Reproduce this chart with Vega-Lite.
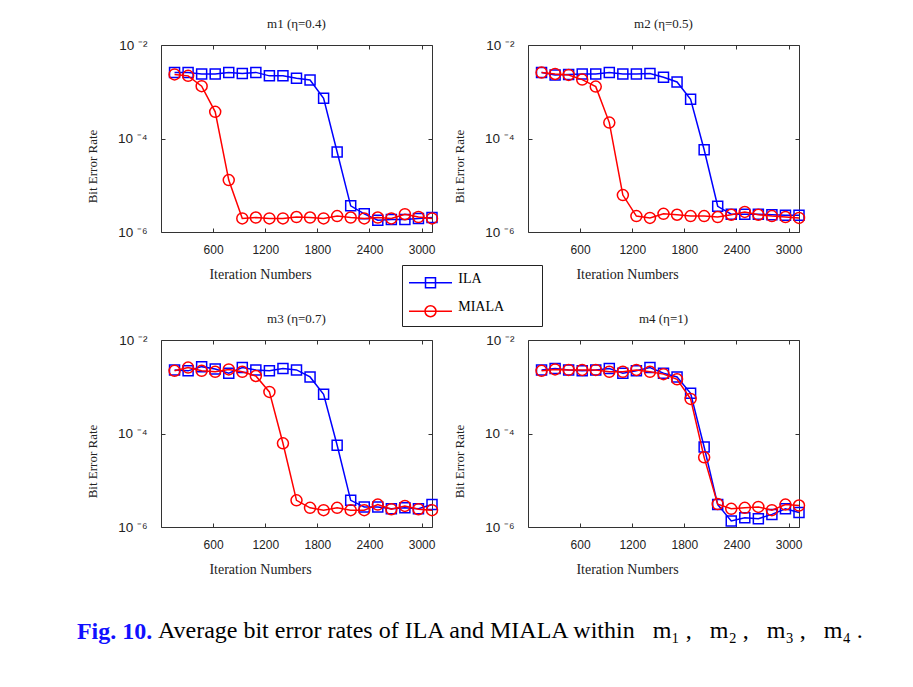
{
  "$schema": "https://vega.github.io/schema/vega-lite/v6.json",
  "background": "white",
  "padding": {"left": 76, "top": 17, "right": 0, "bottom": 0},
  "data": {"values": [
    {"p":"m1","x":156,"ILA":0.002594,"MIALA":0.002344},
    {"p":"m1","x":312,"ILA":0.002594,"MIALA":0.002188},
    {"p":"m1","x":468,"ILA":0.002399,"MIALA":0.001318},
    {"p":"m1","x":624,"ILA":0.002399,"MIALA":0.000372},
    {"p":"m1","x":780,"ILA":0.002594,"MIALA":0.0000129},
    {"p":"m1","x":936,"ILA":0.002455,"MIALA":0.00000195},
    {"p":"m1","x":1092,"ILA":0.002594,"MIALA":0.00000204},
    {"p":"m1","x":1248,"ILA":0.002188,"MIALA":0.00000195},
    {"p":"m1","x":1404,"ILA":0.002188,"MIALA":0.00000195},
    {"p":"m1","x":1560,"ILA":0.00195,"MIALA":0.00000209},
    {"p":"m1","x":1716,"ILA":0.001778,"MIALA":0.00000204},
    {"p":"m1","x":1872,"ILA":0.000724,"MIALA":0.00000195},
    {"p":"m1","x":2028,"ILA":0.0000513,"MIALA":0.00000219},
    {"p":"m1","x":2184,"ILA":0.00000363,"MIALA":0.00000204},
    {"p":"m1","x":2340,"ILA":0.00000245,"MIALA":0.00000195},
    {"p":"m1","x":2496,"ILA":0.00000178,"MIALA":0.00000204},
    {"p":"m1","x":2652,"ILA":0.00000186,"MIALA":0.00000195},
    {"p":"m1","x":2808,"ILA":0.00000186,"MIALA":0.0000024},
    {"p":"m1","x":2964,"ILA":0.00000195,"MIALA":0.00000209},
    {"p":"m1","x":3120,"ILA":0.00000204,"MIALA":0.00000195},
    {"p":"m2","x":156,"ILA":0.002594,"MIALA":0.00257},
    {"p":"m2","x":312,"ILA":0.002291,"MIALA":0.002399},
    {"p":"m2","x":468,"ILA":0.002344,"MIALA":0.002291},
    {"p":"m2","x":624,"ILA":0.002399,"MIALA":0.00182},
    {"p":"m2","x":780,"ILA":0.002399,"MIALA":0.001288},
    {"p":"m2","x":936,"ILA":0.00257,"MIALA":0.000219},
    {"p":"m2","x":1092,"ILA":0.002399,"MIALA":0.00000617},
    {"p":"m2","x":1248,"ILA":0.002399,"MIALA":0.00000219},
    {"p":"m2","x":1404,"ILA":0.002455,"MIALA":0.000002},
    {"p":"m2","x":1560,"ILA":0.002042,"MIALA":0.00000245},
    {"p":"m2","x":1716,"ILA":0.001622,"MIALA":0.00000234},
    {"p":"m2","x":1872,"ILA":0.000692,"MIALA":0.00000219},
    {"p":"m2","x":2028,"ILA":0.0000575,"MIALA":0.00000219},
    {"p":"m2","x":2184,"ILA":0.00000355,"MIALA":0.00000209},
    {"p":"m2","x":2340,"ILA":0.0000024,"MIALA":0.00000234},
    {"p":"m2","x":2496,"ILA":0.0000024,"MIALA":0.00000269},
    {"p":"m2","x":2652,"ILA":0.0000024,"MIALA":0.00000234},
    {"p":"m2","x":2808,"ILA":0.00000234,"MIALA":0.00000219},
    {"p":"m2","x":2964,"ILA":0.00000229,"MIALA":0.00000209},
    {"p":"m2","x":3120,"ILA":0.00000229,"MIALA":0.000002},
    {"p":"m3","x":156,"ILA":0.002291,"MIALA":0.002188},
    {"p":"m3","x":312,"ILA":0.002188,"MIALA":0.00257},
    {"p":"m3","x":468,"ILA":0.002692,"MIALA":0.002188},
    {"p":"m3","x":624,"ILA":0.002399,"MIALA":0.002089},
    {"p":"m3","x":780,"ILA":0.00195,"MIALA":0.002344},
    {"p":"m3","x":936,"ILA":0.00257,"MIALA":0.002089},
    {"p":"m3","x":1092,"ILA":0.002291,"MIALA":0.001698},
    {"p":"m3","x":1248,"ILA":0.002188,"MIALA":0.000776},
    {"p":"m3","x":1404,"ILA":0.002455,"MIALA":0.0000617},
    {"p":"m3","x":1560,"ILA":0.002291,"MIALA":0.00000372},
    {"p":"m3","x":1716,"ILA":0.001622,"MIALA":0.00000257},
    {"p":"m3","x":1872,"ILA":0.000692,"MIALA":0.00000229},
    {"p":"m3","x":2028,"ILA":0.0000562,"MIALA":0.00000257},
    {"p":"m3","x":2184,"ILA":0.00000372,"MIALA":0.00000229},
    {"p":"m3","x":2340,"ILA":0.00000269,"MIALA":0.00000229},
    {"p":"m3","x":2496,"ILA":0.00000269,"MIALA":0.00000302},
    {"p":"m3","x":2652,"ILA":0.00000245,"MIALA":0.0000024},
    {"p":"m3","x":2808,"ILA":0.00000257,"MIALA":0.00000282},
    {"p":"m3","x":2964,"ILA":0.00000245,"MIALA":0.0000024},
    {"p":"m3","x":3120,"ILA":0.00000302,"MIALA":0.00000229},
    {"p":"m4","x":156,"ILA":0.002291,"MIALA":0.002188},
    {"p":"m4","x":312,"ILA":0.002455,"MIALA":0.002344},
    {"p":"m4","x":468,"ILA":0.002291,"MIALA":0.002291},
    {"p":"m4","x":624,"ILA":0.002188,"MIALA":0.002291},
    {"p":"m4","x":780,"ILA":0.002291,"MIALA":0.002291},
    {"p":"m4","x":936,"ILA":0.002455,"MIALA":0.002089},
    {"p":"m4","x":1092,"ILA":0.00195,"MIALA":0.002089},
    {"p":"m4","x":1248,"ILA":0.002188,"MIALA":0.002291},
    {"p":"m4","x":1404,"ILA":0.00257,"MIALA":0.002089},
    {"p":"m4","x":1560,"ILA":0.00195,"MIALA":0.001862},
    {"p":"m4","x":1716,"ILA":0.001622,"MIALA":0.001445},
    {"p":"m4","x":1872,"ILA":0.000724,"MIALA":0.00055},
    {"p":"m4","x":2028,"ILA":0.0000513,"MIALA":0.0000309},
    {"p":"m4","x":2184,"ILA":0.00000302,"MIALA":0.00000309},
    {"p":"m4","x":2340,"ILA":0.00000135,"MIALA":0.00000245},
    {"p":"m4","x":2496,"ILA":0.00000158,"MIALA":0.00000257},
    {"p":"m4","x":2652,"ILA":0.00000151,"MIALA":0.00000269},
    {"p":"m4","x":2808,"ILA":0.00000186,"MIALA":0.00000229},
    {"p":"m4","x":2964,"ILA":0.00000245,"MIALA":0.00000302},
    {"p":"m4","x":3120,"ILA":0.00000204,"MIALA":0.00000288}
  ]},
  "title": {"text": "Fig. 10.", "orient": "bottom", "anchor": "start", "color": "#1010ff", "font": "Liberation Serif", "fontSize": 24, "fontWeight": "bold", "dx": -9, "dy": -23, "offset": 0},
  "vconcat": [{
    "title": {"text": "Average bit error rates of ILA and MIALA within\u00a0\u00a0\u00a0m₁\u00a0,\u00a0\u00a0\u00a0m₂\u00a0,\u00a0\u00a0\u00a0m₃\u00a0,\u00a0\u00a0\u00a0m₄\u00a0.", "orient": "bottom", "anchor": "start", "color": "black", "font": "Liberation Serif", "fontSize": 24, "fontWeight": "normal", "dx": 72, "offset": 42},
    "spacing": 30,
    "vconcat": [
      {"hconcat": [
        {"width": 271, "height": 187, "title": {"text": "m1 (η=0.4)"},
         "transform": [{"filter": "datum.p=='m1'"}, {"fold": ["ILA", "MIALA"], "as": ["method", "ber"]}],
         "resolve": {"axis": {"x": "independent", "y": "independent"}},
         "layer": [
          {"transform": [{"filter": "datum.method=='ILA'"}], "mark": {"type": "line", "strokeWidth": 1.5},
           "encoding": {
            "x": {"field": "x", "type": "quantitative", "scale": {"domain": [0, 3120], "nice": false, "zero": false}, "axis": {"orient": "bottom", "values": [600, 1200, 1800, 2400, 3000], "format": "d", "title": "Iteration Numbers"}},
            "y": {"field": "ber", "type": "quantitative", "scale": {"type": "log", "domain": [0.000001, 0.01], "nice": false}, "axis": {"orient": "left", "values": [0.000001, 0.0001, 0.01], "title": "Bit Error Rate", "labelExpr": "datum.value < 0.00001 ? '10 ⁻⁶' : (datum.value < 0.001 ? '10 ⁻⁴' : '10 ⁻²')"}},
            "color": {"field": "method", "type": "nominal", "scale": {"domain": ["ILA", "MIALA"], "range": ["#0000ff", "#ff0000"]},
              "legend": {"title": null, "orient": "none", "legendX": 241, "legendY": 220, "strokeColor": "#222", "fillColor": "white", "padding": 6.25, "symbolSize": 462, "symbolStrokeWidth": 1.5, "symbolFillColor": "transparent", "symbolType": "M-1,0H3M0.535,-0.465H1.465V0.465H0.535Z", "labelFont": "Liberation Serif", "labelFontSize": 14, "labelColor": "black", "labelBaseline": "alphabetic", "labelOffset": 27, "rowPadding": 8.5, "labelExpr": "datum.label + '\u00a0\u00a0\u00a0\u00a0\u00a0\u00a0\u00a0\u00a0\u00a0\u200b'",
                "encoding": {"symbols": {"shape": {"condition": {"test": "datum.value == 'ILA'", "value": "M-1,0H3M0.535,-0.465H1.465V0.465H0.535Z"}, "value": "M-1,0H3M0.49,0A0.51,0.51 0 1,0 1.51,0A0.51,0.51 0 1,0 0.49,0Z"}, "fill": {"value": "transparent"}}}}}
           }},
          {"transform": [{"filter": "datum.method=='ILA'"}], "mark": {"type": "point", "shape": "square", "filled": false, "size": 100, "strokeWidth": 1.5, "opacity": 1},
           "encoding": {
            "x": {"field": "x", "type": "quantitative", "scale": {"domain": [0, 3120], "nice": false, "zero": false}, "axis": {"orient": "top", "values": [600, 1200, 1800, 2400, 3000], "labels": false, "title": null}},
            "y": {"field": "ber", "type": "quantitative", "scale": {"type": "log", "domain": [0.000001, 0.01], "nice": false}, "axis": {"orient": "right", "values": [0.000001, 0.0001, 0.01], "labels": false, "title": null}},
            "color": {"field": "method", "type": "nominal", "legend": null}
           }},
          {"transform": [{"filter": "datum.method=='MIALA'"}], "mark": {"type": "line", "strokeWidth": 1.5},
           "encoding": {
            "x": {"field": "x", "type": "quantitative", "axis": null},
            "y": {"field": "ber", "type": "quantitative", "axis": null},
            "color": {"field": "method", "type": "nominal", "legend": null}
           }},
          {"transform": [{"filter": "datum.method=='MIALA'"}], "mark": {"type": "point", "shape": "circle", "filled": false, "size": 121, "strokeWidth": 1.5, "opacity": 1},
           "encoding": {
            "x": {"field": "x", "type": "quantitative", "axis": null},
            "y": {"field": "ber", "type": "quantitative", "axis": null},
            "color": {"field": "method", "type": "nominal", "legend": null}
           }}
         ]},
        {"width": 271, "height": 187, "title": {"text": "m2 (η=0.5)"},
         "transform": [{"filter": "datum.p=='m2'"}, {"fold": ["ILA", "MIALA"], "as": ["method", "ber"]}],
         "resolve": {"axis": {"x": "independent", "y": "independent"}},
         "layer": [
          {"transform": [{"filter": "datum.method=='ILA'"}], "mark": {"type": "line", "strokeWidth": 1.5},
           "encoding": {
            "x": {"field": "x", "type": "quantitative", "scale": {"domain": [0, 3120], "nice": false, "zero": false}, "axis": {"orient": "bottom", "values": [600, 1200, 1800, 2400, 3000], "format": "d", "title": "Iteration Numbers"}},
            "y": {"field": "ber", "type": "quantitative", "scale": {"type": "log", "domain": [0.000001, 0.01], "nice": false}, "axis": {"orient": "left", "values": [0.000001, 0.0001, 0.01], "title": "Bit Error Rate", "labelExpr": "datum.value < 0.00001 ? '10 ⁻⁶' : (datum.value < 0.001 ? '10 ⁻⁴' : '10 ⁻²')"}},
            "color": {"field": "method", "type": "nominal", "legend": null}
           }},
          {"transform": [{"filter": "datum.method=='ILA'"}], "mark": {"type": "point", "shape": "square", "filled": false, "size": 100, "strokeWidth": 1.5, "opacity": 1},
           "encoding": {
            "x": {"field": "x", "type": "quantitative", "scale": {"domain": [0, 3120], "nice": false, "zero": false}, "axis": {"orient": "top", "values": [600, 1200, 1800, 2400, 3000], "labels": false, "title": null}},
            "y": {"field": "ber", "type": "quantitative", "scale": {"type": "log", "domain": [0.000001, 0.01], "nice": false}, "axis": {"orient": "right", "values": [0.000001, 0.0001, 0.01], "labels": false, "title": null}},
            "color": {"field": "method", "type": "nominal", "legend": null}
           }},
          {"transform": [{"filter": "datum.method=='MIALA'"}], "mark": {"type": "line", "strokeWidth": 1.5},
           "encoding": {
            "x": {"field": "x", "type": "quantitative", "axis": null},
            "y": {"field": "ber", "type": "quantitative", "axis": null},
            "color": {"field": "method", "type": "nominal", "legend": null}
           }},
          {"transform": [{"filter": "datum.method=='MIALA'"}], "mark": {"type": "point", "shape": "circle", "filled": false, "size": 121, "strokeWidth": 1.5, "opacity": 1},
           "encoding": {
            "x": {"field": "x", "type": "quantitative", "axis": null},
            "y": {"field": "ber", "type": "quantitative", "axis": null},
            "color": {"field": "method", "type": "nominal", "legend": null}
           }}
         ]}
      ], "spacing": 11},
      {"hconcat": [
        {"width": 271, "height": 187, "title": {"text": "m3 (η=0.7)"},
         "transform": [{"filter": "datum.p=='m3'"}, {"fold": ["ILA", "MIALA"], "as": ["method", "ber"]}],
         "resolve": {"axis": {"x": "independent", "y": "independent"}},
         "layer": [
          {"transform": [{"filter": "datum.method=='ILA'"}], "mark": {"type": "line", "strokeWidth": 1.5},
           "encoding": {
            "x": {"field": "x", "type": "quantitative", "scale": {"domain": [0, 3120], "nice": false, "zero": false}, "axis": {"orient": "bottom", "values": [600, 1200, 1800, 2400, 3000], "format": "d", "title": "Iteration Numbers"}},
            "y": {"field": "ber", "type": "quantitative", "scale": {"type": "log", "domain": [0.000001, 0.01], "nice": false}, "axis": {"orient": "left", "values": [0.000001, 0.0001, 0.01], "title": "Bit Error Rate", "labelExpr": "datum.value < 0.00001 ? '10 ⁻⁶' : (datum.value < 0.001 ? '10 ⁻⁴' : '10 ⁻²')"}},
            "color": {"field": "method", "type": "nominal", "legend": null}
           }},
          {"transform": [{"filter": "datum.method=='ILA'"}], "mark": {"type": "point", "shape": "square", "filled": false, "size": 100, "strokeWidth": 1.5, "opacity": 1},
           "encoding": {
            "x": {"field": "x", "type": "quantitative", "scale": {"domain": [0, 3120], "nice": false, "zero": false}, "axis": {"orient": "top", "values": [600, 1200, 1800, 2400, 3000], "labels": false, "title": null}},
            "y": {"field": "ber", "type": "quantitative", "scale": {"type": "log", "domain": [0.000001, 0.01], "nice": false}, "axis": {"orient": "right", "values": [0.000001, 0.0001, 0.01], "labels": false, "title": null}},
            "color": {"field": "method", "type": "nominal", "legend": null}
           }},
          {"transform": [{"filter": "datum.method=='MIALA'"}], "mark": {"type": "line", "strokeWidth": 1.5},
           "encoding": {
            "x": {"field": "x", "type": "quantitative", "axis": null},
            "y": {"field": "ber", "type": "quantitative", "axis": null},
            "color": {"field": "method", "type": "nominal", "legend": null}
           }},
          {"transform": [{"filter": "datum.method=='MIALA'"}], "mark": {"type": "point", "shape": "circle", "filled": false, "size": 121, "strokeWidth": 1.5, "opacity": 1},
           "encoding": {
            "x": {"field": "x", "type": "quantitative", "axis": null},
            "y": {"field": "ber", "type": "quantitative", "axis": null},
            "color": {"field": "method", "type": "nominal", "legend": null}
           }}
         ]},
        {"width": 271, "height": 187, "title": {"text": "m4 (η=1)"},
         "transform": [{"filter": "datum.p=='m4'"}, {"fold": ["ILA", "MIALA"], "as": ["method", "ber"]}],
         "resolve": {"axis": {"x": "independent", "y": "independent"}},
         "layer": [
          {"transform": [{"filter": "datum.method=='ILA'"}], "mark": {"type": "line", "strokeWidth": 1.5},
           "encoding": {
            "x": {"field": "x", "type": "quantitative", "scale": {"domain": [0, 3120], "nice": false, "zero": false}, "axis": {"orient": "bottom", "values": [600, 1200, 1800, 2400, 3000], "format": "d", "title": "Iteration Numbers"}},
            "y": {"field": "ber", "type": "quantitative", "scale": {"type": "log", "domain": [0.000001, 0.01], "nice": false}, "axis": {"orient": "left", "values": [0.000001, 0.0001, 0.01], "title": "Bit Error Rate", "labelExpr": "datum.value < 0.00001 ? '10 ⁻⁶' : (datum.value < 0.001 ? '10 ⁻⁴' : '10 ⁻²')"}},
            "color": {"field": "method", "type": "nominal", "legend": null}
           }},
          {"transform": [{"filter": "datum.method=='ILA'"}], "mark": {"type": "point", "shape": "square", "filled": false, "size": 100, "strokeWidth": 1.5, "opacity": 1},
           "encoding": {
            "x": {"field": "x", "type": "quantitative", "scale": {"domain": [0, 3120], "nice": false, "zero": false}, "axis": {"orient": "top", "values": [600, 1200, 1800, 2400, 3000], "labels": false, "title": null}},
            "y": {"field": "ber", "type": "quantitative", "scale": {"type": "log", "domain": [0.000001, 0.01], "nice": false}, "axis": {"orient": "right", "values": [0.000001, 0.0001, 0.01], "labels": false, "title": null}},
            "color": {"field": "method", "type": "nominal", "legend": null}
           }},
          {"transform": [{"filter": "datum.method=='MIALA'"}], "mark": {"type": "line", "strokeWidth": 1.5},
           "encoding": {
            "x": {"field": "x", "type": "quantitative", "axis": null},
            "y": {"field": "ber", "type": "quantitative", "axis": null},
            "color": {"field": "method", "type": "nominal", "legend": null}
           }},
          {"transform": [{"filter": "datum.method=='MIALA'"}], "mark": {"type": "point", "shape": "circle", "filled": false, "size": 121, "strokeWidth": 1.5, "opacity": 1},
           "encoding": {
            "x": {"field": "x", "type": "quantitative", "axis": null},
            "y": {"field": "ber", "type": "quantitative", "axis": null},
            "color": {"field": "method", "type": "nominal", "legend": null}
           }}
         ]}
      ], "spacing": 11}
    ]
  }],
  "config": {
    "view": {"stroke": "#333", "strokeWidth": 1},
    "axis": {"grid": false, "domain": false, "tickSize": -4, "tickColor": "#333", "tickWidth": 1, "labelFont": "Liberation Sans", "labelFontSize": 12, "labelColor": "#222", "titleFont": "Liberation Serif", "titleFontSize": 13, "titleFontWeight": "normal", "titleColor": "#222"},
    "axisX": {"labelPadding": 16, "titlePadding": 12, "titleFontSize": 14, "titleX": 99, "labelAngle": 0, "labelFlush": false},
    "axisY": {"labelPadding": 18, "titlePadding": 18, "labelFontSize": 13.5, "titleY": 121, "labelFlush": false},
    "title": {"font": "Liberation Serif", "fontSize": 13, "fontWeight": "normal", "color": "#222", "offset": 7}
  }
}
